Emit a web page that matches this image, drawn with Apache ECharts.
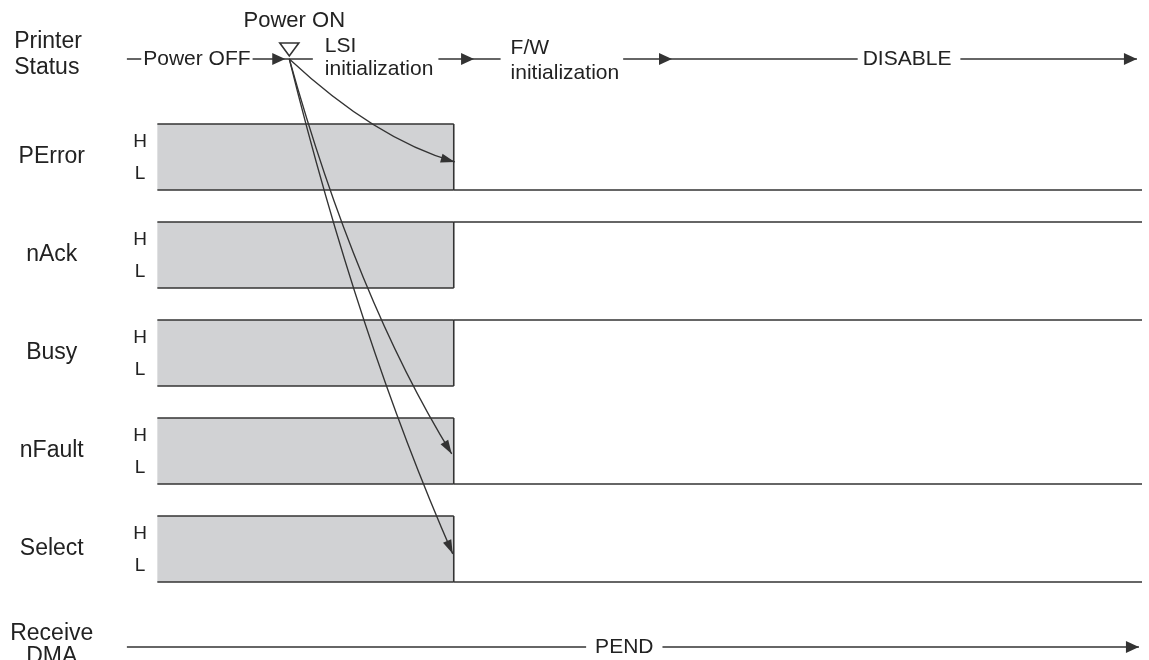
<!DOCTYPE html>
<html>
<head>
<meta charset="utf-8">
<title>Power ON timing</title>
<script src="https://cdn.jsdelivr.net/npm/echarts@6/dist/echarts.min.js"></script>
<style>
html, body { margin: 0; padding: 0; background: #fff; }
#main { width: 1149px; height: 660px; }
</style>
</head>
<body>
<div id="main"></div>
<script>
// x: time (0 = left end of the traces, 100 = right end)
// y: row (0 = Printer Status, 1..5 = signals, 6 = Receive DMA)
var signalNames = ['PError', 'nAck', 'Busy', 'nFault', 'Select'];
var signalRows = [1, 2, 3, 4, 5];
var finalLevels = ['L', 'H', 'H', 'L', 'L']; // level after the undefined period
var undefinedStart = 3;
var undefinedEnd = 32.2;
var traceEnd = 100;

var powerOnTime = 16;
var statusNames = ['Power OFF', 'LSI\ninitialization', 'F/W\ninitialization', 'DISABLE'];
var statusArrowTimes = [15.6, 34.2, 53.7, 99.5];
var statusLabelTimes = [6.9, 19.5, 37.8, 77.05];

var dmaNames = ['PEND'];
var dmaArrowTimes = [99.7];
var dmaLabelTimes = [49.0];

// arrows drawn from Power ON to the signals
var arrowTargets = ['PError', 'nFault', 'Select'];
var arrowEndTime = [32.3, 32.0, 32.1];
var arrowEndRow = [1.05, 4.03, 5.05];
var arrowCtrlTime = [24.5, 22.6, 22.8];
var arrowCtrlRow = [0.82, 2.45, 2.85];

var FONT = '"Liberation Sans", Arial, Helvetica, sans-serif';
var INK = '#222';
var LINE = '#333';

function arrowHead(tip, dx, dy, len, half) {
    var l = Math.sqrt(dx * dx + dy * dy);
    var ux = dx / l, uy = dy / l;
    var bx = tip[0] - ux * len, by = tip[1] - uy * len;
    return {
        type: 'polygon',
        shape: { points: [[tip[0], tip[1]], [bx - uy * half, by + ux * half], [bx + uy * half, by - ux * half]] },
        style: { fill: LINE }
    };
}

function labelBox(text, x, y, align, pad, lh) {
    return {
        type: 'text',
        z2: 10,
        style: {
            text: text, x: x, y: y, align: align, verticalAlign: 'middle',
            font: '21px ' + FONT, lineHeight: lh || 21, fill: INK,
            backgroundColor: '#fff', padding: pad
        }
    };
}

// 信号行：不定区间（灰色）+ 之后的电平
function renderLane(params, api) {
    var i = params.dataIndex;
    var row = api.value(1);
    var h = 0.337;
    var a = api.coord([undefinedStart, row - h]);
    var b = api.coord([undefinedEnd, row + h]);
    var e = api.coord([traceEnd, row]);
    var levelY = finalLevels[i] === 'H' ? a[1] : b[1];
    var name = api.coord([-7.4, row]);
    var hl = api.coord([1.3, row]);
    var ls = { stroke: LINE, lineWidth: 1.6 };
    return {
        type: 'group',
        children: [
            { type: 'rect', shape: { x: a[0], y: a[1], width: b[0] - a[0], height: b[1] - a[1] }, style: { fill: '#d1d2d4' } },
            { type: 'line', shape: { x1: a[0], y1: a[1], x2: b[0], y2: a[1] }, style: ls },
            { type: 'line', shape: { x1: a[0], y1: b[1], x2: b[0], y2: b[1] }, style: ls },
            { type: 'line', shape: { x1: b[0], y1: a[1], x2: b[0], y2: b[1] }, style: ls },
            { type: 'line', shape: { x1: b[0], y1: levelY, x2: e[0], y2: levelY }, style: ls },
            { type: 'text', style: { text: signalNames[i], x: name[0], y: name[1], align: 'center', verticalAlign: 'middle', font: '23px ' + FONT, fill: INK } },
            { type: 'text', style: { text: 'H', x: hl[0], y: hl[1] - 15, align: 'center', verticalAlign: 'middle', font: '19px ' + FONT, fill: INK } },
            { type: 'text', style: { text: 'L', x: hl[0], y: hl[1] + 17, align: 'center', verticalAlign: 'middle', font: '19px ' + FONT, fill: INK } }
        ]
    };
}

function renderStatus(params, api) {
    var row = 0;
    var s = api.coord([0, row]);
    var e = api.coord([statusArrowTimes[statusArrowTimes.length - 1], row]);
    var p = api.coord([powerOnTime, row]);
    var name = api.coord([-11.1, row]);
    var kids = [
        { type: 'line', shape: { x1: s[0], y1: s[1], x2: e[0], y2: e[1] }, style: { stroke: LINE, lineWidth: 1.6 } },
        { type: 'text', style: { text: 'Printer\nStatus', x: name[0], y: name[1] - 4, align: 'left', verticalAlign: 'middle', font: '23px ' + FONT, lineHeight: 26, fill: INK } },
        { type: 'polygon', z2: 12, shape: { points: [[p[0] - 9.5, p[1] - 16], [p[0] + 9.5, p[1] - 16], [p[0], p[1] - 3]] }, style: { fill: '#fff', stroke: LINE, lineWidth: 1.6 } },
        { type: 'text', style: { text: 'Power ON', x: p[0] + 5, y: p[1] - 38, align: 'center', verticalAlign: 'middle', font: '22px ' + FONT, fill: INK } }
    ];
    statusArrowTimes.forEach(function (t) {
        kids.push(arrowHead(api.coord([t, row]), 1, 0, 13, 6));
    });
    var pads = [[0, 2, 0, 2], [0, 5, 0, 12], [0, 4, 0, 10], [0, 9, 0, 5]];
    var aligns = ['center', 'left', 'left', 'center'];
    var lhs = [21, 23, 25, 21];
    var dys = [0, -1, 2, 0];
    statusNames.forEach(function (n, k) {
        var c = api.coord([statusLabelTimes[k], row]);
        kids.push(labelBox(n, c[0] - (aligns[k] === 'left' ? pads[k][3] : 0), c[1] + dys[k], aligns[k], pads[k], lhs[k]));
    });
    return { type: 'group', children: kids };
}

function renderDma(params, api) {
    var row = 6;
    var s = api.coord([0, row]);
    var e = api.coord([dmaArrowTimes[0], row]);
    var name = api.coord([-7.4, row]);
    var c = api.coord([dmaLabelTimes[0], row]);
    return {
        type: 'group',
        children: [
            { type: 'line', shape: { x1: s[0], y1: s[1], x2: e[0], y2: e[1] }, style: { stroke: LINE, lineWidth: 1.6 } },
            arrowHead(e, 1, 0, 13, 6),
            labelBox(dmaNames[0], c[0], c[1], 'center', [0, 9, 0, 9]),
            { type: 'text', style: { text: 'Receive\nDMA', x: name[0], y: name[1] - 2, align: 'center', verticalAlign: 'middle', font: '23px ' + FONT, lineHeight: 23, fill: INK } }
        ]
    };
}

function renderArrow(params, api) {
    var i = params.dataIndex;
    var s = api.coord([powerOnTime, 0]);
    var e = api.coord([arrowEndTime[i], arrowEndRow[i]]);
    var c = api.coord([arrowCtrlTime[i], arrowCtrlRow[i]]);
    return {
        type: 'group',
        children: [
            { type: 'bezierCurve', shape: { x1: s[0], y1: s[1], x2: e[0], y2: e[1], cpx1: c[0], cpy1: c[1] }, style: { stroke: LINE, lineWidth: 1.3, fill: null } },
            arrowHead(e, e[0] - c[0], e[1] - c[1], 14, 4.5)
        ]
    };
}

var chart = echarts.init(document.getElementById('main'));
chart.setOption({
    animation: false,
    backgroundColor: '#fff',
    grid: { left: 0, right: 7, top: 0, bottom: 0 },
    xAxis: { type: 'value', min: -12.5, max: 100, show: false },
    yAxis: { type: 'value', min: -0.602, max: 6.133, inverse: true, show: false },
    series: [
        {
            type: 'custom', name: 'signals', renderItem: renderLane,
            encode: { x: [0, 2], y: 1 },
            data: signalRows.map(function (r) { return [undefinedStart, r, undefinedEnd]; })
        },
        {
            type: 'custom', name: 'status', renderItem: renderStatus,
            encode: { x: 0, y: 1 },
            data: [[powerOnTime, 0]]
        },
        {
            type: 'custom', name: 'dma', renderItem: renderDma,
            encode: { x: 0, y: 1 },
            data: [[dmaLabelTimes[0], 6]]
        },
        {
            type: 'custom', name: 'power-on arrows', renderItem: renderArrow,
            encode: { x: 0, y: 1 },
            z: 5,
            data: arrowTargets.map(function (t, k) { return [arrowEndTime[k], arrowEndRow[k]]; })
        }
    ]
});
</script>
</body>
</html>
